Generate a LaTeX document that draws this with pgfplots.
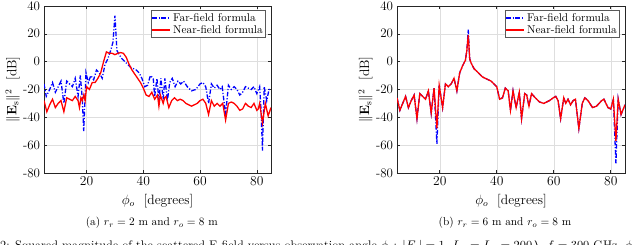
\documentclass[border=0pt]{standalone}
\usepackage{pgfplots}
\pgfplotsset{compat=1.18}
\usepackage{amsmath}
\definecolor{axgray}{gray}{0.15}
\definecolor{gridgray}{gray}{0.87}
\pgfplotsset{
  mystyle/.style={
    scale only axis,
    height=147.8pt,
    xmin=5, xmax=85, ymin=-80, ymax=40,
    xtick={20,40,60,80},
    ytick={-80,-60,-40,-20,0,20,40},
    yticklabels={-80,-60,-40,-20,0,20,40},
    tick pos=both,
    tick align=inside,
    major tick length=2.5pt,
    axis line style={axgray, line width=0.5pt},
    tick style={axgray, line width=0.5pt},
    tick label style={font=\fontsize{11.5}{13}\selectfont},
    grid=major,
    grid style={gridgray, line width=0.4pt},
    xlabel={$\phi_o$~~[degrees]},
    ylabel={$\|\mathbf{E}_{\mathrm{s}}\|^2$~~[dB]},
    label style={font=\large},
    xlabel style={at={(axis description cs:0.5,-0.17)},anchor=center},
    ylabel style={at={(axis description cs:-0.138,0.5)},anchor=center},
    legend style={at={(axis description cs:0.977,0.975)}, anchor=north east,
      draw=gray!70!black, fill=white, inner sep=0.5pt, row sep=-2pt,
      font=\normalsize},
    legend cell align=left,
    legend image code/.code={\draw[#1] (0pt,0pt) -- (16pt,0pt);},
  },
  ff/.style={blue, line width=1.15pt, dash pattern=on 4pt off 1.6pt on 1pt off 1.6pt},
  nf/.style={red, line width=1.15pt},
}
\begin{document}
\begin{tikzpicture}
% ---------- (a) ----------
\begin{axis}[mystyle, width=200.9pt, at={(38.94pt,63.72pt)}, anchor=south west]
\addplot[ff] coordinates {
(5,-16)(5.8,-25)(7,-20)(8,-15)(9,-22)(10,-18)(11,-14)(12,-30)(13,-14)(14,-16)
(15,-18)(16,-12)(17,-25)(17.8,-10)(18.5,-27)(19,-50)(19.8,-8)(20.6,-15)(21.5,-10)
(22.5,-13)(23.5,-6)(24.5,-8)(25.5,-12)(26.5,-2)(27.5,2)(28.5,8)(29.3,14)(30,33)
(30.7,8)(31.5,5)(32.5,2)(33.5,0)(34.5,-2)(35.5,-4)(36.5,-5)(37.5,-6)(38.5,-8)
(39.5,-12)(40.5,-18)(41.5,-17)(42.5,-10)(43.5,-12)(44,-25)(44.8,-12)(45.5,-28)
(46.2,-12)(47,-27)(47.6,-12)(48.5,-28)(49.3,-15)(50.2,-12)(51.2,-18)(52.2,-14)
(53.2,-16)(54.2,-14)(55.5,-18)(57,-21)(58.5,-20)(60,-16)(61,-15)(62,-18)(63,-30)
(64,-16)(65,-19)(66,-17)(67,-20)(67.8,-18)(69,-38)(70,-17)(71,-20)(72,-18)(73,-20)
(74,-24)(75,-22)(76,-18)(77,-19)(78,-20)(79,-18)(80,-23)(81,-18)(81.5,-35)(82,-64)
(82.6,-18)(83.5,-28)(84.3,-20)(85,-20)};
\addlegendentry{Far-field formula}
\addplot[nf] coordinates {
(5,-28)(6,-36)(7,-31)(8,-27)(9,-33)(10,-30)(11,-28)(12,-36)(13,-26)(14,-27)
(15,-28)(16,-25)(17,-28)(17.5,-33)(18,-26)(18.5,-28)(19,-24)(19.5,-28)(20,-18)
(21,-20)(22,-15)(23,-15)(24,-12)(25,-8)(26,0)(27,7)(28,6)(29,6)(30,5)(31,6)
(32,6.5)(33,6)(34,3)(35,-2)(36,-6)(37,-9)(38,-12)(39,-15)(40,-19)(41,-24)(42,-25)
(43,-22)(44,-27)(45,-24)(45.5,-32)(46,-24)(47,-30)(47.5,-26)(48,-25)(49,-33)
(50,-28)(51,-26)(52,-28)(53,-27)(54,-28)(55,-30)(56,-31)(57,-32)(58,-31)(59,-30)
(60,-28)(61,-27)(62,-30)(63,-38)(64,-28)(65,-32)(66,-30)(67,-32)(68,-30)(69,-42)
(70,-30)(71,-29)(72,-30)(73,-32)(74,-35)(75,-34)(76,-30)(77,-32)(78,-33)(79,-30)
(80,-35)(80.5,-34)(81,-30)(82,-44)(83,-30)(84,-39)(85,-33)};
\addlegendentry{Near-field formula}
\end{axis}
% ---------- (b) ----------
\begin{axis}[mystyle, width=201.8pt, at={(351.35pt,63.72pt)}, anchor=south west]
\addplot[ff] coordinates {
(5,-26)(6,-35)(7,-30)(8,-25)(9,-33)(10,-28)(11,-24)(12,-41)(13,-23)(14,-25)
(15,-27)(16,-21)(17,-37)(18,-19)(19,-59)(19.8,-17)(21,-33)(22,-16)(23,-18)(24,-16)
(25,-12)(26,-21)(27,-8)(28,-3)(29,1)(29.5,8)(30,23)(30.5,2)(31,-1)(32,-5)(33,-7)
(34,-9)(35,-11)(36,-12)(37,-13)(38,-14)(39,-16)(40,-18)(41,-27)(42,-26)(43,-19)
(44,-21)(44.8,-35)(45.7,-21)(46.8,-33)(47.9,-22)(48.7,-41)(49.8,-23)(50.5,-24)
(51.3,-32)(52.2,-23)(53.5,-26)(55,-29)(56.5,-30)(58.5,-28)(59.8,-26)(60.7,-25)
(61.5,-28)(62.4,-41)(63.5,-26)(64.2,-30)(65,-27)(65.9,-31)(66.8,-28)(67.6,-27)
(68.8,-48)(70,-30)(70.9,-26)(72,-28)(73.6,-33)(75,-32)(76.8,-28)(77.6,-27)(79,-33)
(80,-34)(80.9,-27)(81.8,-73)(82.6,-27)(83.6,-38)(85,-31)};
\addlegendentry{Far-field formula}
\addplot[nf] coordinates {
(5,-26)(6,-35)(7,-30)(8,-25)(9,-33)(10,-28)(11,-24)(12,-41)(13,-23)(14,-25)
(15,-27)(16,-21)(17,-37)(18,-19)(19,-48)(19.8,-17)(21,-33)(22,-16)(23,-18)(24,-16)
(25,-12)(26,-21)(27,-8)(28,-3)(29,1)(29.5,8)(30,19)(30.5,2)(31,-1)(32,-5)(33,-7)
(34,-9)(35,-11)(36,-12)(37,-13)(38,-14)(39,-16)(40,-18)(41,-27)(42,-26)(43,-19)
(44,-21)(44.8,-35)(45.7,-21)(46.8,-33)(47.9,-22)(48.7,-41)(49.8,-23)(50.5,-24)
(51.3,-32)(52.2,-23)(53.5,-26)(55,-29)(56.5,-30)(58.5,-28)(59.8,-26)(60.7,-25)
(61.5,-28)(62.4,-41)(63.5,-26)(64.2,-30)(65,-27)(65.9,-31)(66.8,-28)(67.6,-27)
(68.8,-48)(70,-30)(70.9,-26)(72,-28)(73.6,-33)(75,-32)(76.8,-28)(77.6,-27)(79,-33)
(80,-34)(80.9,-27)(81.8,-57)(82.6,-27)(83.6,-38)(85,-31)};
\addlegendentry{Near-field formula}
\end{axis}
% captions
\node[anchor=center] at (134.3pt,19.9pt) {(a) $r_r = 2$ m and $r_o = 8$ m};
\node[anchor=center] at (446.9pt,19.9pt) {(b) $r_r = 6$ m and $r_o = 8$ m};
\node[anchor=base west, inner sep=0pt, font=\fontsize{11}{12}\selectfont] at (0pt,-3.9pt) {\llap{Fig.~}2: Squared magnitude of the scattered E-field versus observation angle $\phi_o$: $|E_i| = 1$, $L_x = L_y = 200\lambda$, $f = 300$ GHz, $\phi_i = 30^\circ$, and more text beyond};
\pgfresetboundingbox
\useasboundingbox (0pt,0pt) rectangle (566.4pt,216.8pt);
\end{tikzpicture}
\end{document}
